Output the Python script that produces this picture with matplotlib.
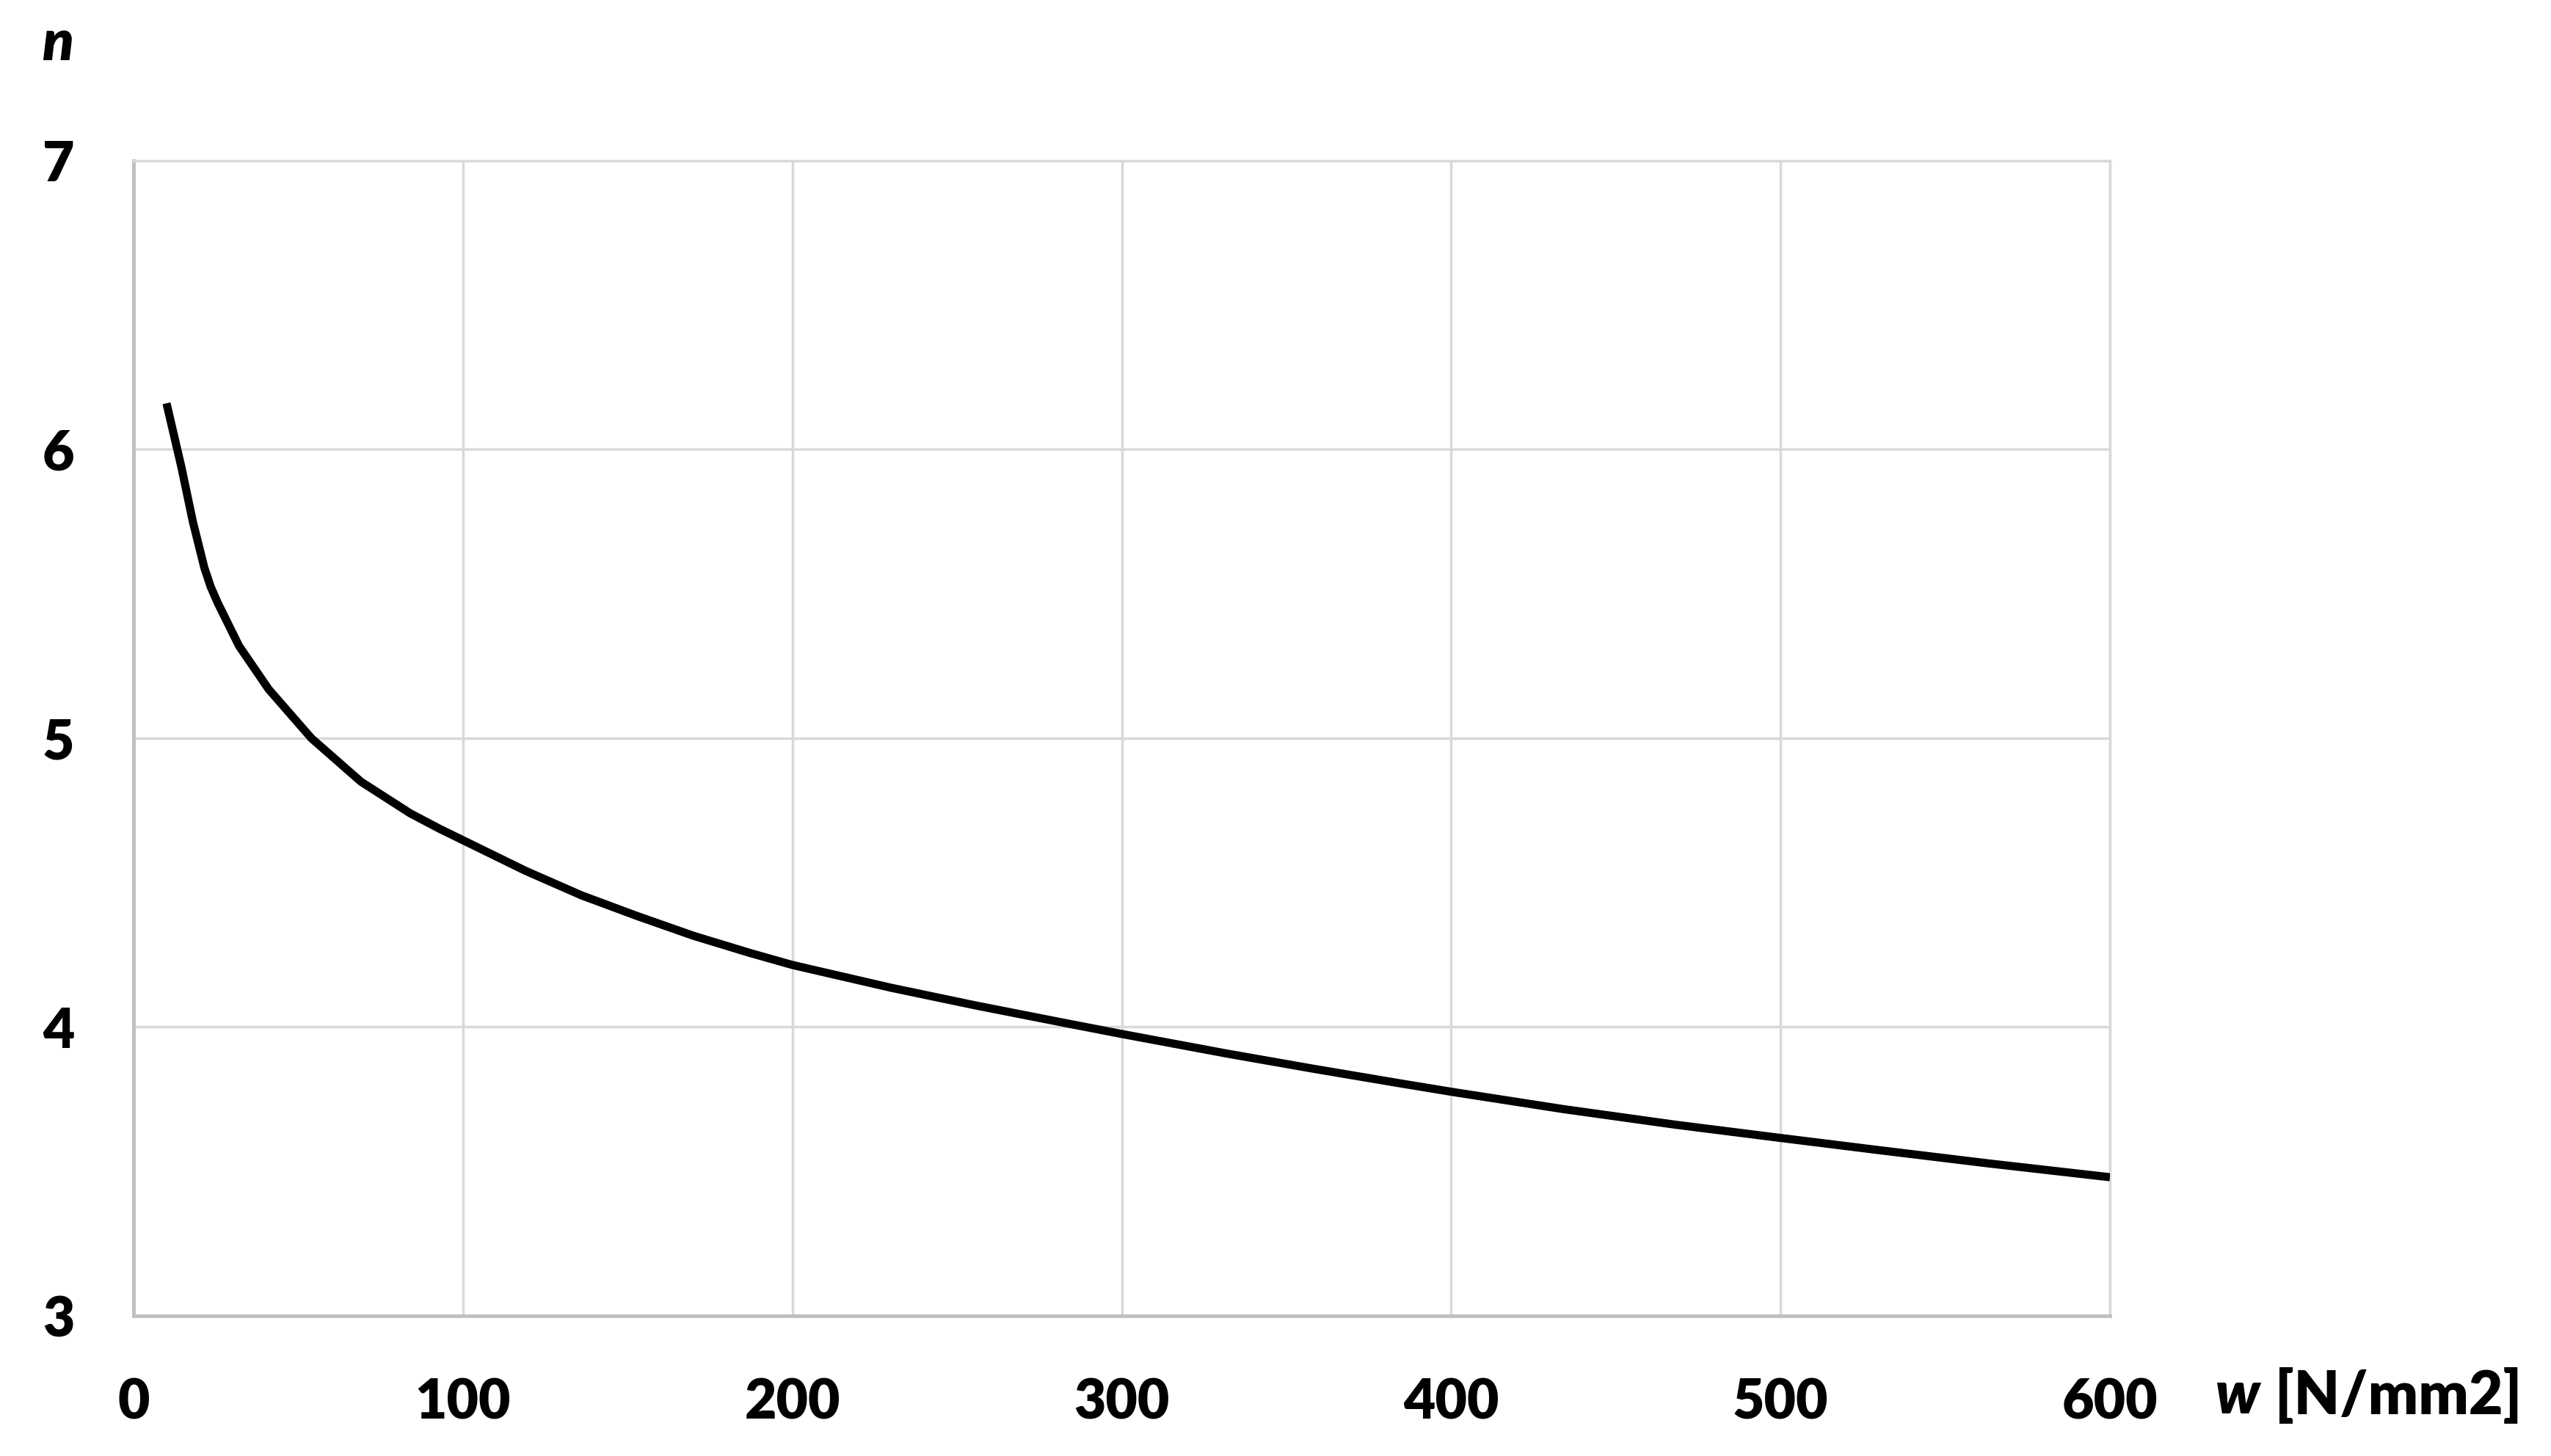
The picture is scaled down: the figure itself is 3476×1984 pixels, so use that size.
import matplotlib
matplotlib.use('Agg')
import matplotlib.pyplot as plt

# values
w_values = [10, 14.5, 18, 21.5, 23.4, 25.5, 32, 41, 54, 69, 84, 93, 100, 119, 136, 153,
            170, 187, 200, 230, 256, 281, 300, 332, 358, 384, 400, 434, 468, 500,
            529, 563, 600]
n_values = [6.16, 5.94, 5.75, 5.59, 5.525, 5.47, 5.32, 5.17, 5.00, 4.85, 4.74, 4.686, 4.647,
            4.541, 4.456, 4.384, 4.316, 4.257, 4.215, 4.136, 4.074, 4.018, 3.976,
            3.908, 3.856, 3.806, 3.776, 3.716, 3.662, 3.616, 3.575, 3.528, 3.48]
x_ticks = [0, 100, 200, 300, 400, 500, 600]
y_ticks = [3, 4, 5, 6, 7]

plt.rcParams['font.family'] = ['Lato', 'DejaVu Sans']

fig = plt.figure(figsize=(34.76, 19.84), dpi=100)
ax = fig.add_axes([0.05236, 0.09627, 0.77474, 0.79335])

ax.plot(w_values, n_values, color='black', linewidth=8, solid_capstyle='butt',
        solid_joinstyle='round', zorder=3)

ax.set_xlim(0, 600)
ax.set_ylim(3, 7)
ax.set_xticks(x_ticks)
ax.set_yticks(y_ticks)
ax.grid(True, color='#d9d9d9', linewidth=2.5)
ax.set_axisbelow(True)

for side in ['top', 'right']:
    ax.spines[side].set_color('#d9d9d9')
    ax.spines[side].set_linewidth(2.5)
for side in ['left', 'bottom']:
    ax.spines[side].set_color('#bfbfbf')
    ax.spines[side].set_linewidth(3.5)

ax.tick_params(axis='both', length=0, labelsize=54)
ax.tick_params(axis='y', pad=58)
ax.tick_params(axis='x', pad=60)
for lab in ax.get_xticklabels() + ax.get_yticklabels():
    lab.set_fontweight('heavy')

# axis titles
fig.text(78 / 3476, 1 - 60 / 1984, 'n', fontsize=56, fontweight='heavy', fontstyle='italic',
         ha='center', va='center')
fig.text(3019 / 3476, 1 - 1902 / 1984, 'w', fontsize=58, fontweight='heavy', fontstyle='italic',
         ha='left', va='center')
fig.text(3100 / 3476, 1 - 1902 / 1984, '[N/mm2]', fontsize=58, fontweight='heavy',
         ha='left', va='center')

fig.savefig('out.png', dpi=100, facecolor='white')
